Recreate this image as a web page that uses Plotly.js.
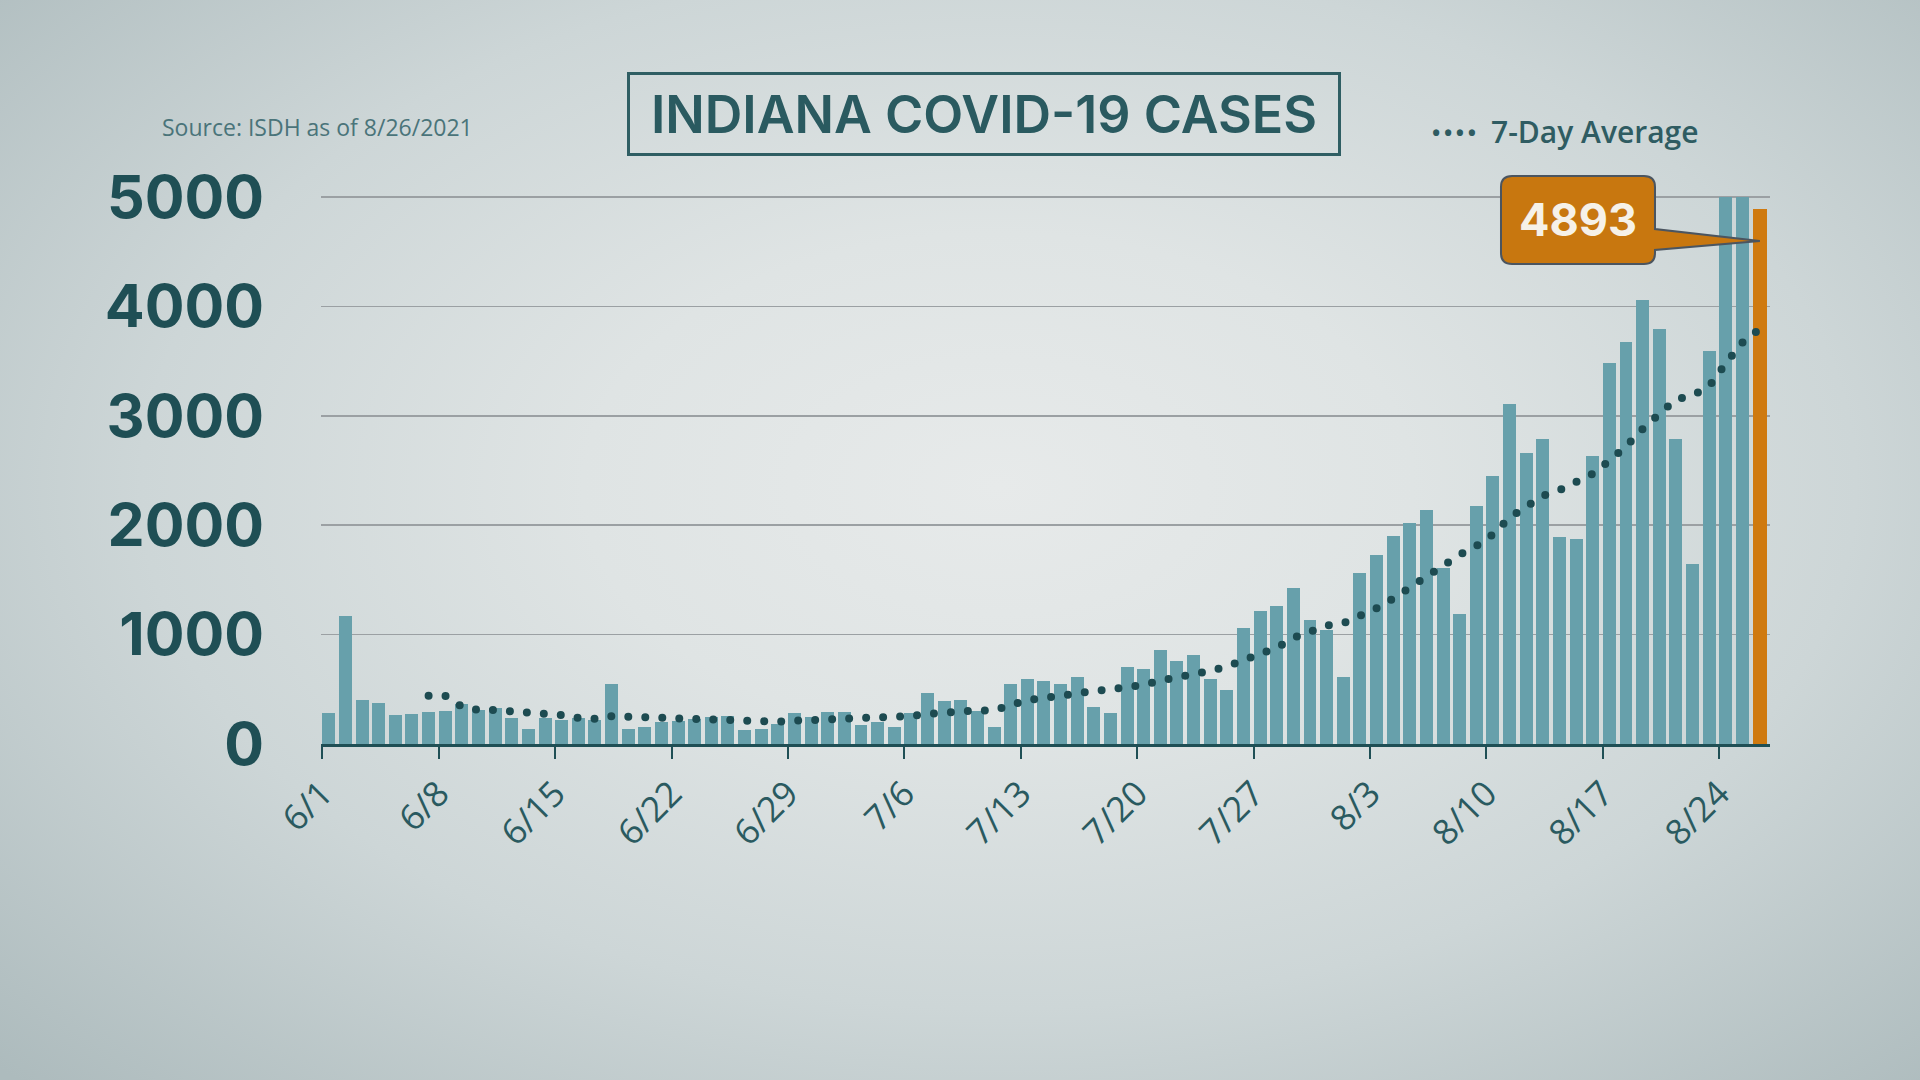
<!DOCTYPE html>
<html>
<head>
<meta charset="utf-8">
<script src="https://cdn.plot.ly/plotly-3.0.1.min.js"></script>
<style>
  html, body { margin: 0; padding: 0; width: 1920px; height: 1080px; overflow: hidden; }
  body {
    background: radial-gradient(ellipse 72% 78% at 52% 45%, #e7eaea 0%, #dfe4e4 30%, #cdd6d7 62%, #adbbbd 100%);
  }
  #chart { width: 1920px; height: 1080px; }
  .js-line { stroke-linecap: round; }
</style>
</head>
<body>
<div id="chart"></div>
<script>
// ---- data (daily new cases, 6/1 .. 8/26/2021) ----
const cases = [
  280, 1171, 401, 374, 262, 271, 295, 304, 365, 310,
  328, 240, 140, 234, 219, 234, 219, 550, 137, 158,
  204, 213, 226, 249, 255, 128, 140, 182, 286, 243,
  292, 292, 173, 198, 155, 286, 462, 392, 401, 304,
  155, 547, 593, 578, 547, 611, 340, 286, 700, 690,
  858, 760, 812, 593, 490, 1058, 1216, 1259, 1426, 1131,
  1040, 611, 1560, 1724, 1901, 2023, 2138, 1610, 1187, 2172,
  2452, 3111, 2661, 2790, 1889, 1870, 2637, 3479, 3672, 4060,
  3797, 2790, 1644, 3591, 5000, 5000, 4893
];
// 7-day average, starting on 6/7 (day index 6)
const avgStartIndex = 6;
const avg7 = [
  441, 441, 340, 310, 310, 301, 280, 274, 265, 240,
  231, 255, 249, 246, 240, 240, 240, 234, 215, 204,
  198, 204, 213, 219, 225, 228, 234, 240, 240, 255,
  275, 290, 292, 307, 307, 353, 401, 420, 447, 474,
  484, 500, 518, 540, 580, 605, 633, 668, 708, 760,
  820, 880, 970, 1020, 1083, 1105, 1168, 1240, 1330, 1430,
  1540, 1640, 1730, 1810, 1915, 2070, 2180, 2270, 2320, 2405,
  2470, 2590, 2720, 2880, 3020, 3150, 3185, 3270, 3480, 3670,
  3790
];
const tickLabels = ['6/1','6/8','6/15','6/22','6/29','7/6','7/13','7/20','7/27','8/3','8/10','8/17','8/24'];
const yTicks = [0, 1000, 2000, 3000, 4000, 5000];
const titleText = 'INDIANA COVID-19 CASES';
const sourceText = 'Source: ISDH as of 8/26/2021';
const legendText = '7-Day Average';

// ---- styling ----
const TEAL_BAR = '#67a0ab';
const ORANGE = '#cf7a10';
const DARK = '#1f4f55';
const BAR_W = 0.78;
const LAST_W = 0.88;

const dayIdx = cases.map((_, i) => i);
const lastIdx = cases.length - 1;

const barTrace = {
  type: 'bar',
  x: dayIdx,
  y: cases,
  offset: 0,
  width: cases.map((_, i) => i === lastIdx ? LAST_W : BAR_W),
  marker: { color: cases.map((_, i) => i === lastIdx ? ORANGE : TEAL_BAR), line: { width: 0 } },
  hoverinfo: 'skip',
  showlegend: false
};

const avgTrace = {
  type: 'scatter',
  mode: 'lines',
  x: avg7.map((_, k) => avgStartIndex + k + BAR_W / 2),
  y: avg7,
  line: { color: '#1d4b51', width: 8, dash: '0px,17px' },
  hoverinfo: 'skip',
  showlegend: false
};

// plot area in pixels
const L = 321, R = 1770, T = 196, B = 744;
const XR = [-0.08, 87.05], YR = [0, 5010];
const px = p => (p - L) / (R - L);
const py = p => (B - p) / (B - T);
const dataToPxX = x => L + (x - XR[0]) / (XR[1] - XR[0]) * (R - L);
const dataToPxY = y => B - (y - YR[0]) / (YR[1] - YR[0]) * (B - T);

// callout box with pointer to the last bar
const bx0 = 1501, bx1 = 1655, by0 = 176, by1 = 264, rr = 11;
const tipX = dataToPxX(lastIdx + LAST_W / 2);
const tipY = dataToPxY(cases[lastIdx] * 0.94);
const P = (x, y) => px(x).toFixed(5) + ',' + py(y).toFixed(5);
const calloutPath =
  'M' + P(bx0 + rr, by0) + ' L' + P(bx1 - rr, by0) +
  ' Q' + P(bx1, by0) + ' ' + P(bx1, by0 + rr) +
  ' L' + P(bx1, 229) + ' L' + P(tipX, tipY) + ' L' + P(bx1, 250) +
  ' L' + P(bx1, by1 - rr) + ' Q' + P(bx1, by1) + ' ' + P(bx1 - rr, by1) +
  ' L' + P(bx0 + rr, by1) + ' Q' + P(bx0, by1) + ' ' + P(bx0, by1 - rr) +
  ' L' + P(bx0, by0 + rr) + ' Q' + P(bx0, by0) + ' ' + P(bx0 + rr, by0) + ' Z';

const FONT = '"Open Sans", "Noto Sans", sans-serif';
const FONT2 = 'Inter, "Open Sans", sans-serif';

const layout = {
  width: 1920, height: 1080,
  margin: { l: L, r: 1920 - R, t: T, b: 1080 - B, pad: 0 },
  paper_bgcolor: 'rgba(0,0,0,0)',
  plot_bgcolor: 'rgba(0,0,0,0)',
  showlegend: false,
  bargap: 0,
  xaxis: {
    range: XR,
    tickvals: tickLabels.map((_, k) => k * 7),
    ticktext: tickLabels,
    tickangle: -45,
    tickfont: { family: FONT, size: 35, weight: 500, color: '#2a5a60' },
    ticks: 'outside', ticklen: 12, tickwidth: 2, tickcolor: DARK,
    showline: true, linecolor: DARK, linewidth: 3,
    showgrid: false, zeroline: false, fixedrange: true
  },
  yaxis: {
    range: YR,
    tickvals: yTicks,
    ticktext: yTicks.map(String),
    tickfont: { family: FONT2, size: 59, weight: 700, color: DARK },
    ticks: '', ticklabelstandoff: 56,
    showgrid: true, gridcolor: '#9ba0a3', gridwidth: 1.5,
    zeroline: false, showline: false, fixedrange: true
  },
  shapes: [
    { type: 'path', xref: 'paper', yref: 'paper', path: calloutPath,
      fillcolor: '#c8770f', line: { color: '#4b5560', width: 2 }, layer: 'above' }
  ],
  annotations: [
    { text: titleText, xref: 'paper', yref: 'paper', x: px(984), y: py(114),
      xanchor: 'center', yanchor: 'middle', showarrow: false,
      font: { family: FONT2, size: 52, weight: 600, color: '#2a5a60' },
      bordercolor: '#2f5e63', borderwidth: 3, borderpad: 0, width: 708, height: 78 },
    { text: sourceText, xref: 'paper', yref: 'paper', x: px(160), y: py(127),
      xanchor: 'left', yanchor: 'middle', showarrow: false,
      font: { family: FONT, size: 23, color: '#4a747a' } },
    { text: '\u2022\u2009\u2022\u2009\u2022\u2009\u2022', xref: 'paper', yref: 'paper', x: px(1430), y: py(132),
      xanchor: 'left', yanchor: 'middle', showarrow: false,
      font: { family: FONT, size: 22, weight: 700, color: '#2f5c62' } },
    { text: legendText, xref: 'paper', yref: 'paper', x: px(1489), y: py(131),
      xanchor: 'left', yanchor: 'middle', showarrow: false,
      font: { family: FONT, size: 30, weight: 600, color: '#2f5c62' } },
    { text: String(cases[lastIdx]), xref: 'paper', yref: 'paper', x: px(1578), y: py(219),
      xanchor: 'center', yanchor: 'middle', showarrow: false,
      font: { family: FONT2, size: 45, weight: 700, color: '#f6f1e8' } }
  ]
};

Plotly.newPlot('chart', [barTrace, avgTrace], layout, { staticPlot: true, displayModeBar: false });
</script>
</body>
</html>
